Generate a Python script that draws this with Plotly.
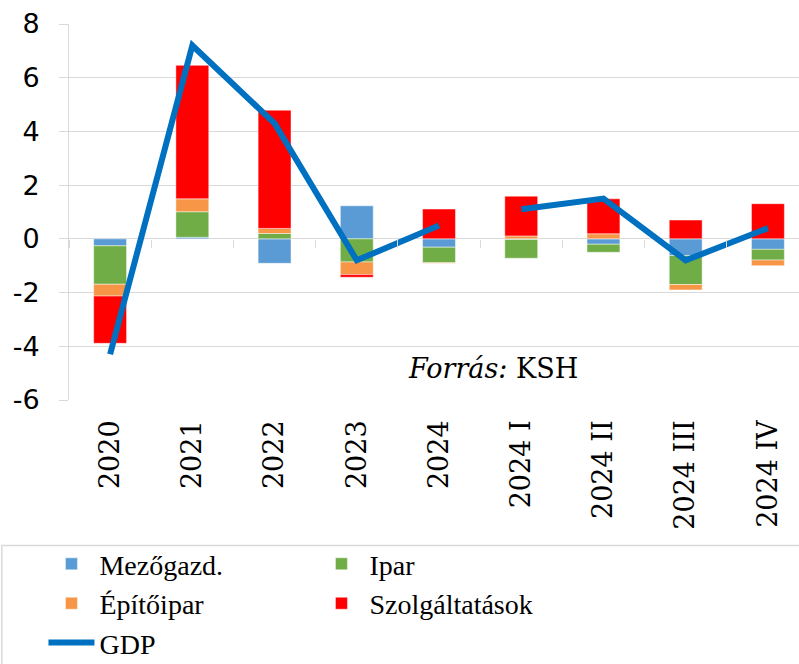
import plotly.graph_objects as go

categories = ["2020", "2021", "2022", "2023", "2024", "2024 I", "2024 II", "2024 III", "2024 IV"]
mezogazd = [-0.26, 0.06, -0.91, 1.23, -0.31, -0.02, -0.20, -0.62, -0.39]
ipar = [-1.43, 0.95, 0.20, -0.86, -0.58, -0.70, -0.30, -1.08, -0.40]
epitoipar = [-0.44, 0.48, 0.19, -0.47, -0.02, 0.11, 0.19, -0.20, -0.21]
szolgaltatas = [-1.76, 4.97, 4.40, -0.10, 1.11, 1.48, 1.30, 0.70, 1.31]
gdp = [-4.3, 7.2, 4.3, -0.8, 0.5, 1.1, 1.5, -0.8, 0.4]
y_ticks = [-6, -4, -2, 0, 2, 4, 6, 8]
y_tick_labels = ["-6", "-4", "-2", "0", "2", "4", "6", "8"]

grid = "#D9D9D9"
edge = dict(color="rgba(255,255,255,0.45)", width=1)

fig = go.Figure()
series = [
    ("Mezőgazd.", mezogazd, "#5B9BD5"),
    ("Ipar", ipar, "#70AD47"),
    ("Építőipar", epitoipar, "#F79646"),
    ("Szolgáltatások", szolgaltatas, "#FF0000"),
]
for name, vals, col in series:
    fig.add_trace(go.Bar(x=categories, y=vals, name=name,
                         marker=dict(color=col, line=edge)))

n_annual = 5
fig.add_trace(go.Scatter(x=categories[:n_annual], y=gdp[:n_annual], name="GDP",
                         mode="lines", legendgroup="gdp",
                         line=dict(color="#0070C0", width=6)))
fig.add_trace(go.Scatter(x=categories[n_annual:], y=gdp[n_annual:], name="GDP",
                         mode="lines", legendgroup="gdp", showlegend=False,
                         line=dict(color="#0070C0", width=6)))

x_range = [-0.5, 8.378]
fig.update_layout(
    width=799, height=664,
    margin=dict(l=69, r=0, t=24, b=264, autoexpand=False),
    paper_bgcolor="white", plot_bgcolor="white",
    barmode="relative", bargap=0.6,
    showlegend=True,
    legend=dict(orientation="h", x=-0.035, y=-0.37, xanchor="left", yanchor="top",
                font=dict(family="Liberation Serif", size=28, color="black"),
                bgcolor="rgba(0,0,0,0)", borderwidth=0,
                entrywidth=209, entrywidthmode="pixels",
                itemwidth=46, traceorder="normal"),
    xaxis=dict(type="category", range=x_range, showgrid=False, showline=False,
               zeroline=False, ticks="", tickangle=-90, automargin=False,
               tickfont=dict(family="DejaVu Serif", size=27, color="black"),
               ticklabelstandoff=14),
    xaxis2=dict(overlaying="x", anchor="free", position=6/14, range=x_range,
                type="linear", tickmode="array",
                tickvals=[i + 0.5 for i in range(-1, 9)],
                ticks="outside", ticklen=8, tickcolor=grid, tickwidth=1,
                showticklabels=False, showgrid=False, zeroline=False,
                showline=False, automargin=False),
    yaxis=dict(range=[-6, 8], tickmode="array", tickvals=y_ticks,
               ticktext=y_tick_labels, showgrid=True, gridcolor=grid,
               gridwidth=1, zeroline=True, zerolinecolor=grid, zerolinewidth=1,
               showline=True, linecolor=grid, linewidth=1, automargin=False,
               ticks="outside", ticklen=9, tickcolor=grid,
               tickfont=dict(family="DejaVu Sans", size=27, color="black"),
               ticklabelstandoff=14),
    shapes=[dict(type="rect", xref="paper", yref="paper",
                 x0=-0.092, x1=1.05, y0=-0.387, y1=-0.8,
                 line=dict(color=grid, width=1.5), fillcolor="rgba(0,0,0,0)",
                 layer="below")],
    annotations=[dict(text="<i>Forrás:</i> KSH", xref="paper", yref="paper",
                      x=0.70, y=0.085, xanchor="right", yanchor="middle",
                      showarrow=False,
                      font=dict(family="DejaVu Serif", size=27, color="black"))],
)
fig.add_trace(go.Scatter(x=[None], y=[None], xaxis="x2", showlegend=False,
                         hoverinfo="skip"))

fig.write_html("out.html", config={"displayModeBar": False},
               post_script="document.body.style.margin='0';document.body.style.overflow='hidden';")
